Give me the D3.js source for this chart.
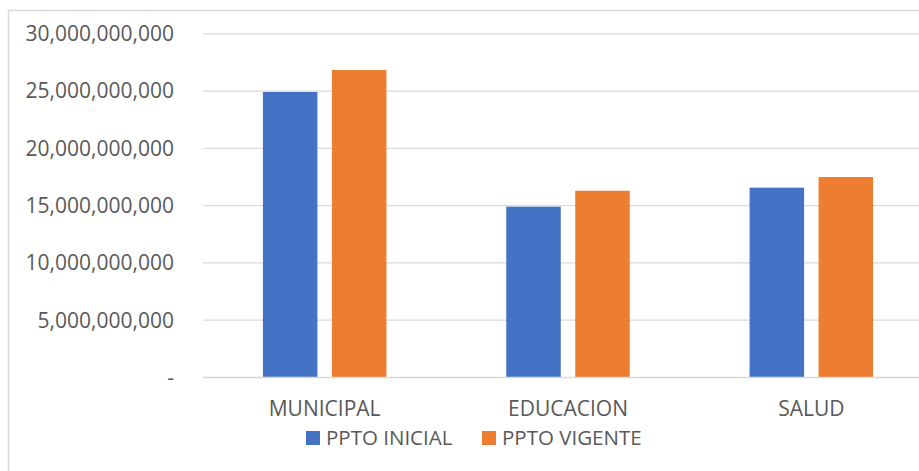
<!DOCTYPE html>
<html>
<head>
<meta charset="utf-8">
<script src="https://cdn.jsdelivr.net/npm/d3@7"></script>
<style>
  body { margin: 0; background: #fff; }
  svg { display: block; font-family: "Open Sans", "Noto Sans", sans-serif; }
</style>
</head>
<body>
<svg width="919" height="471"></svg>
<script>
// data
const categories = ["MUNICIPAL", "EDUCACION", "SALUD"];
const seriesNames = ["PPTO INICIAL", "PPTO VIGENTE"];
const pptoInicial = [24.92e9, 14.91e9, 16.57e9];
const pptoVigente = [26.84e9, 16.30e9, 17.50e9];
const yTicks = [0, 5e9, 10e9, 15e9, 20e9, 25e9, 30e9];
const colors = ["#4472C4", "#ED7D31"];

let svg = d3.select("svg");

// outer chart border (chart is cropped on the right and bottom)
svg.append("rect")
  .attr("x", 8.5).attr("y", 10.5)
  .attr("width", 960).attr("height", 500)
  .attr("fill", "none").attr("stroke", "#d9d9d9").attr("stroke-width", 1.5);

let plotLeft = 203, plotRight = 933, plotTop = 33.8, plotBottom = 377.5;

let xScale = d3.scaleBand().domain(categories).range([plotLeft, plotRight]);
let yScale = d3.scaleLinear().domain([0, 30e9]).range([plotBottom, plotTop]);

// gridlines
svg.append("g").selectAll("line").data(yTicks.filter(d => d > 0)).join("line")
  .attr("x1", plotLeft).attr("x2", plotRight)
  .attr("y1", d => yScale(d)).attr("y2", d => yScale(d))
  .attr("stroke", "#d9d9d9").attr("stroke-width", 1.3);

// y labels
let fmt = d3.format(",");
svg.append("g").selectAll("text").data(yTicks).join("text")
  .attr("x", 174).attr("y", d => yScale(d))
  .attr("dy", "0.35em")
  .attr("text-anchor", "end")
  .attr("fill", "#595959")
  .attr("font-size", 21)
  .text(d => d === 0 ? "-" : fmt(d));

// bars
let barW = 54.5, gap = 14.5;
let rows = categories.map((c, i) => ({ cat: c, vals: [pptoInicial[i], pptoVigente[i]] }));
let groups = svg.append("g").selectAll("g").data(rows).join("g");
groups.selectAll("rect").data(d => d.vals.map((v, j) => ({ cat: d.cat, v: v, j: j }))).join("rect")
  .attr("x", d => xScale(d.cat) + xScale.bandwidth() / 2 + (d.j === 0 ? -(barW + gap / 2) : gap / 2))
  .attr("y", d => yScale(d.v))
  .attr("width", barW)
  .attr("height", d => plotBottom - yScale(d.v))
  .attr("fill", d => colors[d.j]);

// x axis line
svg.append("line")
  .attr("x1", plotLeft).attr("x2", plotRight)
  .attr("y1", plotBottom).attr("y2", plotBottom)
  .attr("stroke", "#d9d9d9").attr("stroke-width", 1.3);

// category labels
svg.append("g").selectAll("text").data(categories).join("text")
  .attr("x", d => xScale(d) + xScale.bandwidth() / 2)
  .attr("y", 416)
  .attr("text-anchor", "middle")
  .attr("fill", "#595959")
  .attr("font-size", 21)
  .text(d => d);

// legend
let legendX = [306, 482];
let legend = svg.append("g").selectAll("g").data(seriesNames).join("g")
  .attr("transform", (d, i) => `translate(${legendX[i]},431)`);
legend.append("rect").attr("width", 14).attr("height", 14).attr("fill", (d, i) => colors[i]);
legend.append("text")
  .attr("x", 20).attr("y", 13.5)
  .attr("fill", "#595959")
  .attr("font-size", 20.5)
  .text(d => d);
</script>
</body>
</html>
